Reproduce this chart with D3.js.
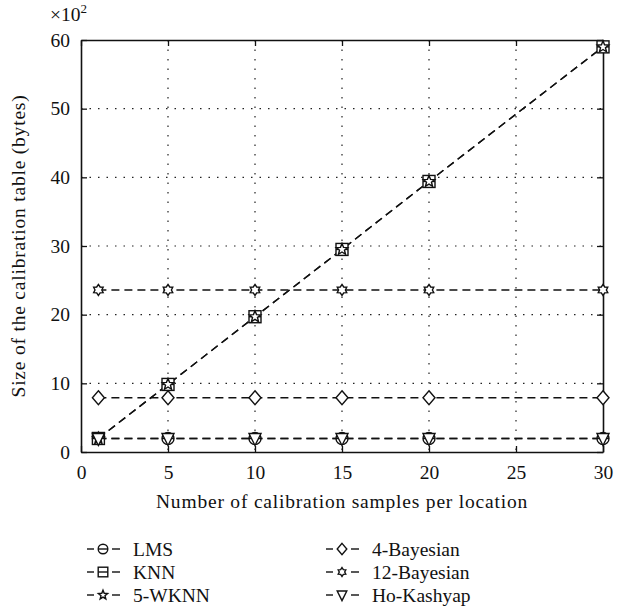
<!DOCTYPE html>
<html>
<head>
<meta charset="utf-8">
<script src="https://cdn.jsdelivr.net/npm/d3@7"></script>
<style>
	body { margin: 0; background: #fff; }
	svg text { font-family: "Liberation Serif", "DejaVu Serif", serif; fill: #111; }
</style>
</head>
<body>
<svg id="chart" width="635" height="613"></svg>
<script>
// samples per location
var xValues = [1, 5, 10, 15, 20, 30];
// table size, x10^2 bytes
var lmsValues = [1.97, 1.97, 1.97, 1.97, 1.97, 1.97];
var knnValues = [1.97, 9.84, 19.7, 29.5, 39.4, 59.0];
var wknnValues = [1.97, 9.84, 19.7, 29.5, 39.4, 59.0];
var bayes4Values = [7.9, 7.9, 7.9, 7.9, 7.9, 7.9];
var bayes12Values = [23.6, 23.6, 23.6, 23.6, 23.6, 23.6];
var hoKashyapValues = [1.97, 1.97, 1.97, 1.97, 1.97, 1.97];

var seriesNames = ["LMS", "KNN", "5-WKNN", "4-Bayesian", "12-Bayesian", "Ho-Kashyap"];
var xTicks = [0, 5, 10, 15, 20, 25, 30];
var yTicks = [0, 10, 20, 30, 40, 50, 60];

var series = [
	{ name: seriesNames[0], values: lmsValues, marker: "theta" },
	{ name: seriesNames[1], values: knnValues, marker: "squareLine" },
	{ name: seriesNames[2], values: wknnValues, marker: "star" },
	{ name: seriesNames[3], values: bayes4Values, marker: "diamond" },
	{ name: seriesNames[4], values: bayes12Values, marker: "hexagram" },
	{ name: seriesNames[5], values: hoKashyapValues, marker: "triangleDown" }
];

var fontSize = "19.5px";
var margin = {top: 40, right: 32, bottom: 161, left: 81};
var svg = d3.select("#chart"),
	width = 635 - margin.left - margin.right,
	height = 613 - margin.top - margin.bottom;

var x = d3.scaleLinear().domain([0, 30]).range([0, width]);
var y = d3.scaleLinear().domain([0, 60]).range([height, 0]);

var g = svg.append("g").attr("transform", "translate(" + margin.left + "," + margin.top + ")");

// dotted grid
g.append("g").selectAll("line").data(xTicks.slice(1, -1)).enter().append("line")
	.attr("x1", function(d) { return x(d); }).attr("x2", function(d) { return x(d); })
	.attr("y1", 0).attr("y2", height)
	.style("stroke", "#222").style("stroke-width", 1.2).style("stroke-dasharray", "1.5,8");
g.append("g").selectAll("line").data(yTicks.slice(1, -1)).enter().append("line")
	.attr("y1", function(d) { return y(d); }).attr("y2", function(d) { return y(d); })
	.attr("x1", 0).attr("x2", width)
	.style("stroke", "#222").style("stroke-width", 1.2).style("stroke-dasharray", "1.5,7");

// axes, ticks point inward
g.append("g").attr("transform", "translate(0," + height + ")")
	.call(d3.axisBottom(x).tickValues(xTicks).tickSizeInner(-6).tickSizeOuter(0).tickPadding(13));
g.append("g")
	.call(d3.axisLeft(y).tickValues(yTicks).tickSizeInner(-6).tickSizeOuter(0).tickPadding(11));
g.append("g")
	.call(d3.axisTop(x).tickValues(xTicks).tickSizeInner(-6).tickSizeOuter(0).tickFormat(""));
g.append("g").attr("transform", "translate(" + width + ",0)")
	.call(d3.axisRight(y).tickValues(yTicks).tickSizeInner(-6).tickSizeOuter(0).tickFormat(""));

g.selectAll(".domain").style("stroke", "#111").style("stroke-width", 1.6);
g.selectAll(".tick line").style("stroke", "#111").style("stroke-width", 1.3);
g.selectAll(".tick text").style("font-family", "'Liberation Serif', serif").style("font-size", fontSize).style("fill", "#111");

// axis titles
svg.append("text")
	.attr("x", margin.left + width / 2).attr("y", 508)
	.attr("text-anchor", "middle").style("font-size", fontSize).style("letter-spacing", "0.8px")
	.text("Number of calibration samples per location");
svg.append("text")
	.attr("transform", "translate(25," + (margin.top + height / 2) + ") rotate(-90)")
	.attr("text-anchor", "middle").style("font-size", fontSize).style("letter-spacing", "0.8px")
	.text("Size of the calibration table (bytes)");
var exp = svg.append("text").attr("x", 50).attr("y", 21).style("font-size", fontSize);
exp.append("tspan").text("\u00d710");
exp.append("tspan").attr("dy", -8).style("font-size", "13px").text("2");

// marker shapes
function drawMarker(sel, type, cx, cy, k) {
	k = k || 1;
	var m = sel.append("g").attr("transform", "translate(" + cx + "," + cy + ") scale(" + k + ")")
		.style("fill", "#fff").style("stroke", "#111").style("stroke-width", 1.4 / k);
	var r = 6;
	if (type == "theta") {
		m.append("circle").attr("r", r);
		m.append("line").attr("x1", -r).attr("x2", r).attr("y1", 0).attr("y2", 0);
	}
	else if (type == "squareLine") {
		m.append("rect").attr("x", -r).attr("y", -r).attr("width", 2 * r).attr("height", 2 * r);
		m.append("line").attr("x1", -r).attr("x2", r).attr("y1", 0).attr("y2", 0);
	}
	else if (type == "star") {
		var pts = [];
		for (var i = 0; i < 10; i++) {
			var a = -Math.PI / 2 + i * Math.PI / 5;
			var rr = i % 2 == 0 ? 6 : 2.6;
			pts.push([rr * Math.cos(a), rr * Math.sin(a)]);
		}
		m.append("path").attr("d", d3.line()(pts) + "Z");
	}
	else if (type == "diamond") {
		m.append("path").attr("d", "M0,-7L6,0L0,7L-6,0Z");
	}
	else if (type == "hexagram") {
		var pts2 = [];
		for (var j = 0; j < 12; j++) {
			var b = -Math.PI / 2 + j * Math.PI / 6;
			var r2 = j % 2 == 0 ? 5.5 : 3.4;
			pts2.push([r2 * Math.cos(b), r2 * Math.sin(b)]);
		}
		m.append("path").attr("d", d3.line()(pts2) + "Z");
	}
	else if (type == "triangleDown") {
		m.append("path").attr("d", "M-6,-5L6,-5L0,7Z");
	}
}

// series lines + markers
var line = d3.line()
	.x(function(d, i) { return x(xValues[i]); })
	.y(function(d) { return y(d); });

series.forEach(function(s) {
	g.append("path").datum(s.values)
		.attr("d", line)
		.style("fill", "none").style("stroke", "#111").style("stroke-width", 1.4)
		.style("stroke-dasharray", "8,5");
});
series.forEach(function(s) {
	s.values.forEach(function(v, i) {
		drawMarker(g, s.marker, x(xValues[i]), y(v));
	});
});

// legend, two columns of three
var legend = svg.append("g");
series.forEach(function(s, i) {
	var col = Math.floor(i / 3), row = i % 3;
	var lx = col == 0 ? 87 : 326, ly = 549 + row * 23;
	var item = legend.append("g");
	item.append("line").attr("x1", lx).attr("x2", lx + 7).attr("y1", ly).attr("y2", ly)
		.style("stroke", "#111").style("stroke-width", 1.4);
	item.append("line").attr("x1", lx + 25).attr("x2", lx + 33).attr("y1", ly).attr("y2", ly)
		.style("stroke", "#111").style("stroke-width", 1.4);
	drawMarker(item, s.marker, lx + 16, ly, 0.8);
	item.append("text").attr("x", lx + 46).attr("y", ly + 7)
		.style("font-size", fontSize).text(s.name);
});
</script>
</body>
</html>
